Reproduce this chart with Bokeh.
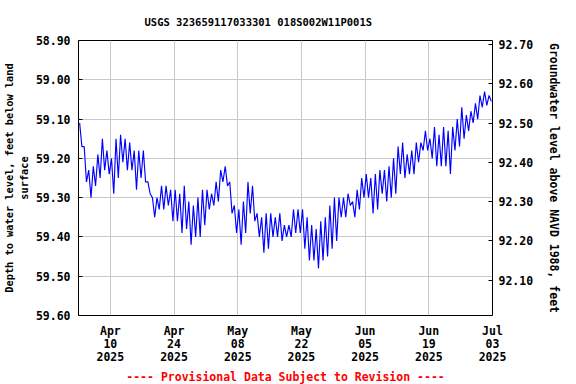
import pandas as pd
from bokeh.plotting import figure
from bokeh.models import (Range1d, LinearAxis, FixedTicker, Title,
                          PrintfTickFormatter, DatetimeTickFormatter)
from bokeh.embed import file_html
from bokeh.resources import INLINE

# ---------------- data ----------------
title_text = "USGS 323659117033301 018S002W11P001S"
left_label = "Depth to water level, feet below land\nsurface"
right_label = "Groundwater level above NAVD 1988, feet"
footer_text = "---- Provisional Data Subject to Revision ----"

start_date = "2025-04-03"
end_date = "2025-07-03"

# daily shallowest / deepest depth to water (feet below land surface), from Apr 3
day_min = [59.11, 59.17, 59.23, 59.22, 59.19, 59.15, 59.18, 59.20, 59.15, 59.14,
           59.15, 59.16, 59.18, 59.18, 59.18, 59.26, 59.30, 59.30, 59.27, 59.27,
           59.28, 59.28, 59.29, 59.27, 59.31, 59.32, 59.30, 59.28, 59.28, 59.29,
           59.26, 59.23, 59.22, 59.26, 59.32, 59.33, 59.31, 59.26, 59.27, 59.34,
           59.35, 59.34, 59.34, 59.35, 59.34, 59.37, 59.37, 59.33, 59.33, 59.33,
           59.35, 59.37, 59.38, 59.36, 59.35, 59.32, 59.30, 59.30, 59.30, 59.29,
           59.31, 59.28, 59.25, 59.24, 59.25, 59.24, 59.23, 59.23, 59.22, 59.20,
           59.17, 59.16, 59.19, 59.18, 59.16, 59.16, 59.13, 59.15, 59.12, 59.14,
           59.12, 59.13, 59.12, 59.10, 59.07, 59.09, 59.08, 59.06, 59.04, 59.03,
           59.04]
day_max = [59.17, 59.26, 59.30, 59.27, 59.25, 59.23, 59.24, 59.29, 59.25, 59.21,
           59.23, 59.23, 59.28, 59.25, 59.26, 59.29, 59.35, 59.33, 59.33, 59.32,
           59.36, 59.36, 59.39, 59.38, 59.42, 59.40, 59.40, 59.37, 59.33, 59.32,
           59.31, 59.26, 59.27, 59.34, 59.39, 59.42, 59.39, 59.34, 59.36, 59.40,
           59.44, 59.43, 59.40, 59.40, 59.41, 59.40, 59.40, 59.39, 59.39, 59.43,
           59.46, 59.46, 59.48, 59.46, 59.45, 59.43, 59.41, 59.35, 59.35, 59.32,
           59.35, 59.33, 59.30, 59.30, 59.34, 59.33, 59.29, 59.31, 59.30, 59.29,
           59.24, 59.25, 59.24, 59.24, 59.21, 59.18, 59.18, 59.20, 59.22, 59.22,
           59.22, 59.24, 59.18, 59.17, 59.15, 59.13, 59.11, 59.10, 59.07, 59.065,
           59.055]

land_surface_elev = 151.61  # depth + elevation = land surface (NAVD 1988)

tick_dates = ["2025-04-10", "2025-04-24", "2025-05-08", "2025-05-22",
              "2025-06-05", "2025-06-19", "2025-07-03"]
left_ticks = [58.90, 59.00, 59.10, 59.20, 59.30, 59.40, 59.50, 59.60]
right_ticks = [92.10, 92.20, 92.30, 92.40, 92.50, 92.60, 92.70]

# ---------------- build series ----------------
t0 = pd.Timestamp(start_date)
xs, ys = [], []
for d, (lo, hi) in enumerate(zip(day_min, day_max)):
    xs.append(t0 + pd.Timedelta(hours=24 * d + 6))
    ys.append(lo)
    xs.append(t0 + pd.Timedelta(hours=24 * d + 18))
    ys.append(hi)

FONT = "DejaVu Sans Mono"
INK = "#000000"

p = figure(width=576, height=384, x_axis_type="datetime",
           x_range=Range1d(pd.Timestamp(start_date), pd.Timestamp(end_date)),
           y_range=Range1d(left_ticks[-1], left_ticks[0]),
           output_backend="svg", toolbar_location=None,
           min_border_left=78, min_border_right=84,
           min_border_top=40, min_border_bottom=69)

p.line(xs, ys, line_color="#0000ff", line_width=1.15)

# title
p.title.text = title_text
p.title.text_font = FONT
p.title.text_font_size = "10.5px"
p.title.text_font_style = "bold"
p.title.text_color = INK
p.title.align = "left"
p.title.offset = 66
p.title.standoff = 25

# frame
p.outline_line_color = "black"
p.outline_line_width = 1
p.background_fill_color = "white"
p.border_fill_color = "white"

# x axis
xa = p.xaxis[0]
xa.ticker = FixedTicker(ticks=[pd.Timestamp(d).value // 10**6 for d in tick_dates])
xa.formatter = DatetimeTickFormatter(days="%b\n%d\n%Y", months="%b\n%d\n%Y",
                                     years="%b\n%d\n%Y", hours="%b\n%d\n%Y")
xa.major_label_text_font = FONT
xa.major_label_text_font_size = "11.5px"
xa.major_label_text_font_style = "bold"
xa.major_label_text_color = INK
xa.major_label_text_line_height = 0.95
xa.major_label_standoff = 8
xa.major_tick_in = 0
xa.major_tick_out = 0
xa.minor_tick_in = 0
xa.minor_tick_out = 0
xa.axis_line_color = None

# left axis
ya = p.yaxis[0]
ya.ticker = FixedTicker(ticks=left_ticks)
ya.formatter = PrintfTickFormatter(format="%.2f")
ya.major_label_text_font = FONT
ya.major_label_text_font_size = "11.5px"
ya.major_label_text_font_style = "bold"
ya.major_label_text_color = INK
ya.major_label_standoff = 8
ya.major_tick_in = 4
ya.major_tick_out = 0
ya.major_tick_line_color = INK
ya.minor_tick_in = 0
ya.minor_tick_out = 0
ya.axis_line_color = None
ya.axis_label = left_label
ya.axis_label_text_font = FONT
ya.axis_label_text_font_size = "10.3px"
ya.axis_label_text_font_style = "bold"
ya.axis_label_text_color = INK
ya.axis_label_standoff = 3

# right axis (ticks and labels)
p.extra_y_ranges = {"elev": Range1d(land_surface_elev - left_ticks[-1],
                                    land_surface_elev - left_ticks[0])}
ra = LinearAxis(y_range_name="elev", ticker=FixedTicker(ticks=right_ticks),
                formatter=PrintfTickFormatter(format="%.2f"))
ra.major_label_text_font = FONT
ra.major_label_text_font_size = "11.5px"
ra.major_label_text_font_style = "bold"
ra.major_label_text_color = INK
ra.major_label_standoff = 6
ra.major_tick_in = 4
ra.major_tick_out = 0
ra.major_tick_line_color = INK
ra.minor_tick_in = 0
ra.minor_tick_out = 0
ra.axis_line_color = None
p.add_layout(ra, "right")

# right-hand title for the elevation axis, centred along the frame
right_title = Title(text=right_label, align="center", text_color=INK,
                    text_font=FONT, text_font_size="11.5px",
                    text_font_style="bold", standoff=21)
p.add_layout(right_title, "right")

# grid
p.xgrid.grid_line_color = "#c8c8c8"
p.ygrid.grid_line_color = "#c8c8c8"
p.xgrid.grid_line_width = 1
p.ygrid.grid_line_width = 1

# footer
footer = Title(text=footer_text, align="center", text_color="#ff0000",
               text_font=FONT, text_font_size="11.5px", text_font_style="bold",
               standoff=0)
p.add_layout(footer, "below")

open("out.html", "w").write(file_html(p, INLINE))
